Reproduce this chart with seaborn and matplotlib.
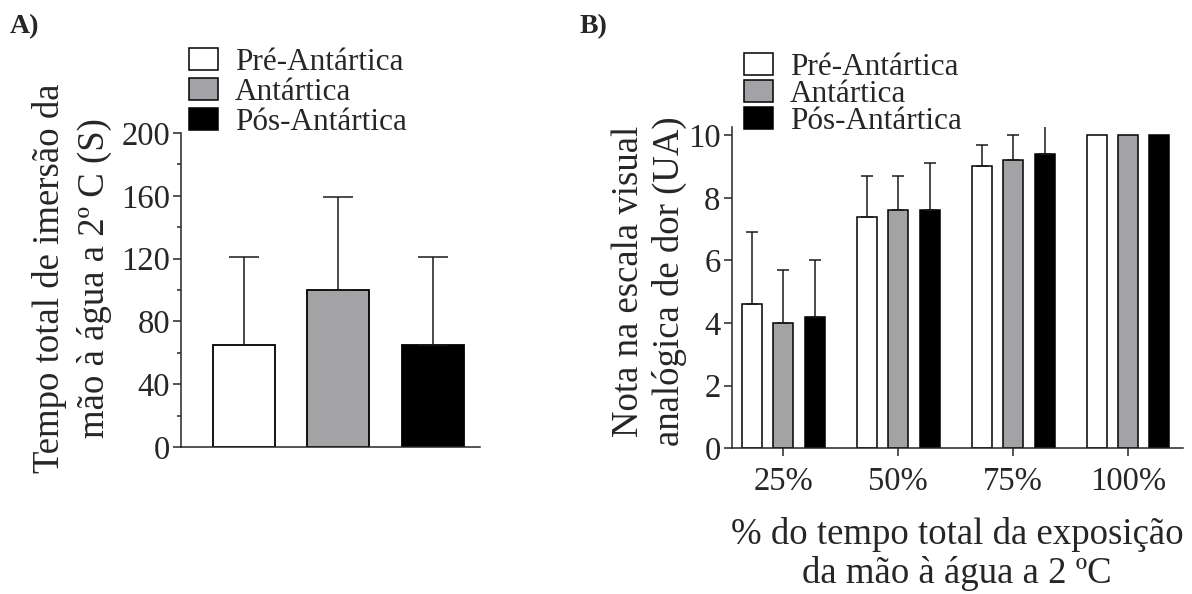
import numpy as np
import pandas as pd
import seaborn as sns
import matplotlib.pyplot as plt
from matplotlib.patches import Patch
from matplotlib.ticker import MultipleLocator

# Groups and their fills
grupos = ["Pré-Antártica", "Antártica", "Pós-Antártica"]
cores = ["#ffffff", "#a3a2a7", "#000000"]

# A) total immersion time (mean and SD, seconds)
tempo_media = [65, 100, 65]
tempo_dp = [56, 59, 56]

# B) visual analogue pain score by share of exposure time
exposicao = ["25%", "50%", "75%", "100%"]
dor_pre = [4.6, 7.4, 9.0, 10.0]
dor_ant = [4.0, 7.6, 9.2, 10.0]
dor_pos = [4.2, 7.6, 9.4, 10.0]
dp_pre = [2.3, 1.3, 0.7, 0.0]
dp_ant = [1.7, 1.1, 0.8, 0.0]
dp_pos = [1.8, 1.5, 0.9, 0.0]

sns.set_theme(style="ticks")
plt.rcParams["font.family"] = ["Liberation Serif", "DejaVu Serif"]
plt.rcParams["axes.linewidth"] = 1.1

W, H = 1192, 594
fig = plt.figure(figsize=(W / 100, H / 100), dpi=100)
fig.patch.set_facecolor("white")

def fx(px):
    return px / W

def fy(py):
    return 1 - py / H

TICK_FS = 23.5
LABEL_FS = 26.5
LEG_FS = 22.5

# ---------- Panel A ----------
axA = fig.add_axes([fx(181), fy(447), fx(480 - 181), (447 - 133) / H])
dfA = pd.DataFrame({"grupo": grupos, "tempo": tempo_media})
sns.barplot(data=dfA, x="grupo", y="tempo", hue="grupo", hue_order=grupos,
            palette=cores, width=0.656, edgecolor="black", linewidth=1.3,
            errorbar=None, legend=False, ax=axA)
for patch, sd in zip(axA.patches, tempo_dp):
    xc = patch.get_x() + patch.get_width() / 2
    axA.errorbar(xc, patch.get_height(), yerr=[[0], [sd]], fmt="none",
                 ecolor="#1a1a1a", elinewidth=1.1, capsize=10.5, capthick=1.1,
                 zorder=1)
axA.set_xlim(-0.667, 2.5)
axA.set_ylim(0, 200)
axA.set_yticks(np.arange(0, 201, 40))
axA.yaxis.set_minor_locator(MultipleLocator(20))
axA.set_xticks([])
axA.set_xlabel("")
axA.set_ylabel("")
axA.tick_params(axis="y", which="major", direction="out", length=6, width=1.1,
                labelsize=TICK_FS, pad=2)
axA.tick_params(axis="y", which="minor", direction="out", length=3, width=1.1)
sns.despine(ax=axA)

fig.text(fx(72), fy(278), "Tempo total de imersão da\nmão à água a 2º C (S)",
         rotation=90, ha="center", va="center", multialignment="center",
         fontsize=LABEL_FS, linespacing=1.4)

# ---------- Panel B ----------
axB = fig.add_axes([fx(731.7), fy(448.3), fx(1183 - 731.7), (448.3 - 127) / H])
dfB = pd.DataFrame({
    "exposicao": exposicao * 3,
    "grupo": np.repeat(grupos, len(exposicao)),
    "nota": dor_pre + dor_ant + dor_pos,
})
sds_B = dp_pre + dp_ant + dp_pos
sns.barplot(data=dfB, x="exposicao", y="nota", hue="grupo", hue_order=grupos,
            order=exposicao, palette=cores, width=0.82, gap=0.363,
            edgecolor="black", linewidth=1.1, errorbar=None, legend=False,
            ax=axB)
for patch, sd in zip(axB.patches, sds_B):
    if sd <= 0:
        continue
    xc = patch.get_x() + patch.get_width() / 2
    axB.errorbar(xc, patch.get_height(), yerr=[[0], [sd]], fmt="none",
                 ecolor="#1a1a1a", elinewidth=1.1, capsize=4, capthick=1.1,
                 zorder=1)
axB.set_xlim(-0.451, 3.479)
axB.set_ylim(0, 10.26)
axB.set_yticks(np.arange(0, 11, 2))
axB.set_xlabel("")
axB.set_ylabel("")
axB.tick_params(axis="both", which="major", direction="out", length=6,
                width=1.1, labelsize=TICK_FS, pad=2)
axB.tick_params(axis="x", pad=7)
sns.despine(ax=axB)

fig.text(fx(649.5), fy(281), "Nota na escala visual\nanalógica de dor (UA)",
         rotation=90, ha="center", va="center", multialignment="center",
         fontsize=LABEL_FS, linespacing=1.21)
fig.text(fx(957), fy(554), "% do tempo total da exposição\nda mão à água a 2 ºC",
         ha="center", va="center", multialignment="center",
         fontsize=LABEL_FS, linespacing=1.15)

# ---------- Legends ----------
handles = [Patch(facecolor=c, edgecolor="black", linewidth=1.1) for c in cores]
for x0, y0, sp in [(189, 48, 0.03), (744, 53, -0.07)]:
    fig.legend(handles, grupos, loc="upper left",
               bbox_to_anchor=(fx(x0), fy(y0)), bbox_transform=fig.transFigure,
               frameon=False, borderpad=0, borderaxespad=0, fontsize=LEG_FS,
               handlelength=0.93, handleheight=0.7, handletextpad=0.54,
               labelspacing=sp)

# ---------- Panel tags ----------
fig.text(fx(10), fy(27), "A)", fontsize=20, fontweight="bold", va="center")
fig.text(fx(580), fy(27), "B)", fontsize=20, fontweight="bold", va="center")

fig.savefig("out.png", dpi=100, facecolor="white")
